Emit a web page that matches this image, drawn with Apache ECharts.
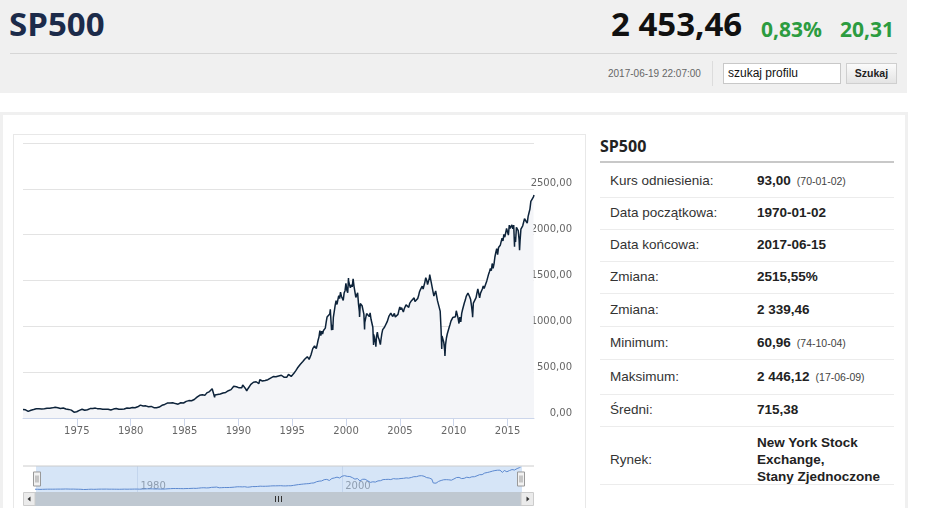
<!DOCTYPE html>
<html><head><meta charset="utf-8">
<script src="https://cdn.jsdelivr.net/npm/echarts@6/dist/echarts.min.js"></script>
<style>
html,body{margin:0;padding:0}
body{width:945px;height:508px;overflow:hidden;background:#fff;font-family:'Liberation Sans',Arial,sans-serif;position:relative}
.a{position:absolute;white-space:nowrap}
.os{font-family:'Open Sans',sans-serif;font-weight:700}
.lbl{font-size:13.5px;color:#333;line-height:20px;height:20px}
.val{font-size:13.5px;color:#222;font-weight:700;line-height:20px;height:20px}
.val small{font-size:10.5px;font-weight:400;color:#444;margin-left:6px}
.sep{height:1px;background:#ececec;left:600px;width:294px}
#chart{position:absolute;left:0;top:0;width:945px;height:508px;z-index:5;pointer-events:none}
</style>
</head><body>
<div class="a" style="left:0;top:0;width:907px;height:93px;background:#f0f0f0"></div>
<div class="a os" style="left:9px;top:7px;font-size:33px;line-height:33px;color:#1c2b4a">SP500</div>
<div class="a os" style="left:611px;top:7px;font-size:33px;line-height:33px;color:#111">2 453,46</div>
<div class="a os" style="left:761px;top:19px;font-size:21px;line-height:21px;color:#2c9c40">0,83%</div>
<div class="a os" style="left:840px;top:19px;font-size:21px;line-height:21px;color:#2c9c40">20,31</div>
<div class="a" style="left:10px;top:53px;width:887px;height:1px;background:#d6d6d6"></div>
<div class="a" style="left:608px;top:67px;font-size:10px;line-height:14px;color:#666">2017-06-19 22:07:00</div>
<div class="a" style="left:712px;top:61px;width:1px;height:25px;background:#dcdcdc"></div>
<div class="a" style="left:723px;top:63px;width:112px;height:19px;background:#fff;border:1px solid #c8c8c8;font-size:12px;line-height:19px;padding-left:4px;color:#111">szukaj profilu</div>
<div class="a" style="left:846px;top:63px;width:49px;height:19px;border:1px solid #cfcfcf;background:linear-gradient(#fbfbfb,#e4e4e4);font-size:10.5px;font-weight:700;line-height:19px;text-align:center;color:#222">Szukaj</div>

<div class="a" style="left:0;top:112px;width:902px;height:420px;border:3px solid #f0f0f0;border-bottom:none"></div>
<div class="a" style="left:13px;top:134px;width:571px;height:400px;border:1px solid #e8e8e8"></div>

<div class="a os" style="left:600px;top:138px;font-size:16px;line-height:16px;color:#222">SP500</div>
<div class="a" style="left:600px;top:161px;width:294px;height:2px;background:#c8c8c8"></div>
<div id="tbl"></div>

<div id="chart"></div>
<script>
// ---- data: S&P 500 monthly closes (read/estimated from the picture) ----
var startYear = 1970;
var d1970s = [
 85.02,89.50,89.63,81.52,76.55,72.72,78.05,81.52,84.21,83.25,87.20,92.15,
 95.88,96.75,100.31,103.95,99.63,99.70,95.58,99.03,98.34,94.23,93.99,102.09,
 103.94,106.57,107.20,107.67,109.53,107.14,107.39,111.09,110.55,111.58,116.67,118.05,
 116.03,111.68,111.52,106.97,104.95,104.26,108.22,104.25,108.43,108.29,95.96,97.55,
 96.57,96.22,93.98,90.31,87.28,86.00,79.31,72.15,63.54,73.90,69.97,68.56,
 76.98,81.59,83.36,87.30,91.15,95.19,88.75,86.88,83.87,89.04,91.24,90.19,
 100.86,99.71,102.77,101.64,100.18,104.28,103.44,102.91,105.24,102.90,102.10,107.46,
 102.03,99.82,98.42,98.44,96.12,100.48,98.85,96.77,96.53,92.34,94.83,95.10,
 89.25,87.04,89.21,96.83,97.24,95.53,100.68,103.29,102.54,93.15,94.70,96.11,
 99.93,96.28,101.59,101.76,99.08,102.91,103.81,109.32,109.32,101.82,106.16,107.94];
var d1980s = [
 114.16,113.66,102.09,106.29,111.24,114.24,121.67,122.38,125.46,127.47,140.52,135.76,
 129.55,131.27,136.00,132.81,132.59,131.21,130.92,122.79,116.18,121.89,126.35,122.55,
 120.40,113.11,111.96,116.44,111.88,109.61,107.09,119.51,120.42,133.71,138.54,140.64,
 145.30,148.06,152.96,164.42,162.39,167.64,162.56,164.40,166.07,163.55,166.40,164.93,
 163.41,157.06,159.18,160.05,150.55,153.18,150.66,166.68,166.10,166.09,163.58,167.24,
 179.63,181.18,180.66,179.83,189.55,191.85,190.92,188.63,182.08,189.82,202.17,211.28,
 211.78,226.92,238.90,235.52,247.35,250.84,236.12,252.93,231.32,243.98,249.22,242.17,
 274.08,284.20,291.70,288.36,290.10,304.00,318.66,329.80,321.83,251.79,230.30,247.08,
 257.07,267.82,258.89,261.33,262.16,273.50,272.02,261.52,271.91,278.97,273.70,277.72,
 297.47,288.86,294.87,309.64,320.52,317.98,346.08,351.45,349.15,340.36,345.99,353.40];
var d1990s = [
 329.08,331.89,339.94,330.80,361.23,358.02,356.15,322.56,306.05,304.00,322.22,330.22,
 343.93,367.07,375.22,375.35,389.83,371.16,387.81,395.43,387.86,392.46,375.22,417.09,
 408.79,412.70,403.69,414.95,415.35,408.14,424.21,414.03,417.80,418.68,431.35,435.71,
 438.78,443.38,451.67,440.19,450.19,450.53,448.13,463.56,458.93,467.83,461.79,466.45,
 481.61,467.14,445.77,450.91,456.50,444.27,458.26,475.49,462.71,472.35,453.69,459.27,
 470.42,487.39,500.71,514.71,533.40,544.75,562.06,561.88,584.41,581.50,605.37,615.93,
 636.02,640.43,645.50,654.17,669.12,670.63,639.95,651.99,687.33,705.27,757.02,740.74,
 786.16,790.82,757.12,801.34,848.28,885.14,954.29,899.47,947.28,914.62,955.40,970.43,
 980.28,1049.34,1101.75,1111.75,1090.82,1133.84,1120.67,957.28,1017.01,1098.67,1163.63,1229.23,
 1279.64,1238.33,1286.37,1335.18,1301.84,1372.71,1328.72,1320.41,1282.71,1362.93,1388.91,1469.25];
var d2000s = [
 1394.46,1366.42,1498.58,1452.43,1420.60,1454.60,1430.83,1517.68,1436.51,1429.40,1314.95,1320.28,
 1366.01,1239.94,1160.33,1249.46,1255.82,1224.42,1211.23,1133.58,1040.94,1059.78,1139.45,1148.08,
 1130.20,1106.73,1147.39,1076.92,1067.14,989.82,911.62,916.07,815.28,885.76,936.31,879.82,
 855.70,841.15,848.18,916.92,963.59,974.50,990.31,1008.01,995.97,1050.71,1058.20,1111.92,
 1131.13,1144.94,1126.21,1107.30,1120.68,1140.84,1101.72,1104.24,1114.58,1130.20,1173.82,1211.92,
 1181.27,1203.60,1180.59,1156.85,1191.50,1191.33,1234.18,1220.33,1228.81,1207.01,1249.48,1248.29,
 1280.08,1280.66,1294.87,1310.61,1270.09,1270.20,1276.66,1303.82,1335.85,1377.94,1400.63,1418.30,
 1438.24,1406.82,1420.86,1482.37,1530.62,1503.35,1455.27,1473.99,1526.75,1549.38,1481.14,1468.36,
 1378.55,1330.63,1322.70,1385.59,1400.38,1280.00,1267.38,1282.83,1166.36,968.75,896.24,903.25,
 825.88,735.09,797.87,872.81,919.14,919.32,987.48,1020.62,1057.08,1036.19,1095.63,1115.10];
var d2010s = [
 1073.87,1104.49,1169.43,1186.69,1089.41,1030.71,1101.60,1049.33,1141.20,1183.26,1180.55,1257.64,
 1286.12,1327.22,1325.83,1363.61,1345.20,1320.64,1292.28,1218.89,1131.42,1253.30,1246.96,1257.60,
 1312.41,1365.68,1408.47,1397.91,1310.33,1362.16,1379.32,1406.58,1440.67,1412.16,1416.18,1426.19,
 1498.11,1514.68,1569.19,1597.57,1630.74,1606.28,1685.73,1632.97,1681.55,1756.54,1805.81,1848.36,
 1782.59,1859.45,1872.34,1883.95,1923.57,1960.23,1930.67,2003.37,1972.29,2018.05,2067.56,2058.90,
 1994.99,2104.50,2067.89,2085.51,2107.39,2063.11,2103.84,1972.18,1920.03,2079.36,2080.41,2043.94,
 1940.24,1932.23,2059.74,2065.30,2096.95,2098.86,2173.60,2170.95,2168.27,2126.15,2198.81,2238.83,
 2278.87,2363.64,2362.72,2384.20,2411.80];
// notable intra-month closes
var extremes = [
 ['1970-01-02',93.00],['1970-05-26',69.29],['1973-01-11',120.24],['1974-10-03',62.28],
 ['1976-09-21',107.83],['1978-03-06',86.90],['1980-03-27',98.22],['1982-08-12',102.42],
 ['1987-08-25',336.77],['1987-10-19',224.84],['1987-12-04',223.92],['1990-07-16',368.95],
 ['1990-10-11',295.46],['1998-07-17',1186.75],['1998-10-08',959.44],['2000-03-24',1527.46],
 ['2001-04-04',1103.25],['2001-09-21',965.80],['2002-07-23',797.70],['2002-10-09',776.76],
 ['2003-03-11',800.73],['2007-10-09',1565.15],['2008-11-20',752.44],['2009-03-09',676.53],
 ['2010-07-02',1022.58],['2011-10-03',1099.23],['2015-08-25',1867.61],['2016-02-11',1829.08],
 ['2017-06-15',2432.46]];
var axisStart = '1970-01-02', axisEnd = '2017-06-15';
var yearTicks = [1975,1980,1985,1990,1995,2000,2005,2010,2015];
var navYearTicks = [1980,2000];

// info table
var infoRows = [
 ['Kurs odniesienia:','93,00','(70-01-02)'],
 ['Data początkowa:','1970-01-02',''],
 ['Data końcowa:','2017-06-15',''],
 ['Zmiana:','2515,55%',''],
 ['Zmiana:','2 339,46',''],
 ['Minimum:','60,96','(74-10-04)'],
 ['Maksimum:','2 446,12','(17-06-09)'],
 ['Średni:','715,38','']];
var marketLabel = 'Rynek:';
var marketLines = ['New York Stock','Exchange,','Stany Zjednoczone'];

// ---- build table (layout) ----
(function(){
  var rowY = [180.5,212.5,244.5,277,309.5,342.5,377,410];
  var seps = [196.5,229,261,293,326,359,394,426,484];
  var h = '';
  infoRows.forEach(function(r,i){
    h += '<div class="a lbl" style="left:610px;top:'+(rowY[i]-10)+'px">'+r[0]+'</div>';
    h += '<div class="a val" style="left:757px;top:'+(rowY[i]-10)+'px">'+r[1]+(r[2]?'<small>'+r[2]+'</small>':'')+'</div>';
  });
  h += '<div class="a lbl" style="left:610px;top:450px">'+marketLabel+'</div>';
  h += '<div class="a" style="left:757px;top:434px;font-size:13.5px;font-weight:700;line-height:17px;color:#222">'+marketLines.join('<br>')+'</div>';
  seps.forEach(function(y){ h += '<div class="a sep" style="top:'+Math.round(y)+'px"></div>'; });
  document.getElementById('tbl').innerHTML = h;
})();

// ---- build series ----
function ts(s){ return new Date(s+'T00:00:00').getTime(); }
var points = [];
[d1970s,d1980s,d1990s,d2000s,d2010s].forEach(function(arr,k){
  arr.forEach(function(v,i){
    var y = startYear + k*10 + Math.floor(i/12), m = i%12 + 1;
    points.push([y+'-'+(m<10?'0':'')+m+'-28', v]);
  });
});
extremes.forEach(function(p){ points.push(p); });
points.sort(function(a,b){ return a[0]<b[0]?-1:a[0]>b[0]?1:0; });
var seriesData = points.map(function(p){ return [ts(p[0]), p[1]]; });
var tickVals = yearTicks.map(function(y){ return ts(y+'-01-01'); });
var navTickVals = navYearTicks.map(function(y){ return ts(y+'-01-01'); });
function yearFmt(v){ return String(new Date(v).getFullYear()); }

var FONT = 'DejaVu Sans';
var chart = echarts.init(document.getElementById('chart'), null, {renderer:'canvas'});
chart.setOption({
  animation:false,
  backgroundColor:'transparent',
  grid:[
    {left:23, top:143, width:511, height:275, outerBoundsMode:'none'},
    {left:35, top:466, width:486, height:26, outerBoundsMode:'none'}
  ],
  xAxis:[
    {type:'value', gridIndex:0, min:ts(axisStart), max:ts(axisEnd), scale:true,
     axisLine:{show:true, onZero:false, lineStyle:{color:'#ccd6eb', width:1}},
     axisTick:{show:true, length:8, lineStyle:{color:'#ccd6eb'}, customValues:tickVals},
     axisLabel:{customValues:tickVals, margin:8, color:'#666', fontFamily:FONT, fontSize:10, formatter:yearFmt},
     splitLine:{show:false}},
    {type:'value', gridIndex:1, min:ts(axisStart), max:ts(axisEnd), scale:true,
     axisLine:{show:false, onZero:false},
     axisTick:{show:false, customValues:navTickVals},
     axisLabel:{customValues:navTickVals, inside:true, margin:1, align:'left', padding:[0,0,0,3],
       color:'#888', fontFamily:FONT, fontSize:10, formatter:yearFmt},
     splitLine:{show:true, lineStyle:{color:'#dfe5ee', width:1}}}
  ],
  yAxis:[
    {type:'value', gridIndex:0, position:'right', min:0, max:3000, interval:500,
     axisLine:{show:false}, axisTick:{show:false},
     splitLine:{show:true, lineStyle:{color:'#e3e3e3', width:1}},
     axisLabel:{margin:38, align:'right', verticalAlign:'bottom', color:'#666', fontFamily:FONT, fontSize:10,
       formatter:function(v){ return v===3000 ? '' : v.toFixed(2).replace('.',','); }}},
    {type:'value', gridIndex:1, min:-200, max:2550, show:false}
  ],
  dataZoom:[{
    type:'slider', xAxisIndex:0, filterMode:'none', start:0, end:100,
    left:35, width:486, top:466, height:26,
    backgroundColor:'rgba(0,0,0,0)', borderColor:'rgba(0,0,0,0)',
    fillerColor:'rgba(153,190,235,0.4)',
    showDataShadow:false, showDetail:false, brushSelect:false, moveHandleSize:0,
    handleIcon:'path://M0,0 L7,0 L7,14 L0,14 Z M2.5,3.5 L2.5,10.5 M4.5,3.5 L4.5,10.5',
    handleSize:'54%',
    handleStyle:{color:'#f2f2f2', borderColor:'#999', borderWidth:1},
    emphasis:{handleStyle:{color:'#f2f2f2', borderColor:'#999'}},
    z:4
  }],
  graphic:[
    {type:'line', z:20, shape:{x1:23,y1:466,x2:534,y2:466}, style:{stroke:'#cccccc', lineWidth:1}},
    {type:'rect', z:20, shape:{x:35,y:492,width:486,height:14}, style:{fill:'#bfc8d1'}},
    {type:'rect', z:20, shape:{x:23.5,y:492.5,width:11.5,height:13}, style:{fill:'#ebebeb', stroke:'#cccccc', lineWidth:1}},
    {type:'rect', z:20, shape:{x:521,y:492.5,width:12.5,height:13}, style:{fill:'#ebebeb', stroke:'#cccccc', lineWidth:1}},
    {type:'polygon', z:21, shape:{points:[[27.5,499],[30.5,496.5],[30.5,501.5]]}, style:{fill:'#333'}},
    {type:'polygon', z:21, shape:{points:[[529.5,499],[526.5,496.5],[526.5,501.5]]}, style:{fill:'#333'}},
    {type:'line', z:21, shape:{x1:275.5,y1:496,x2:275.5,y2:502}, style:{stroke:'#333', lineWidth:1}},
    {type:'line', z:21, shape:{x1:278.5,y1:496,x2:278.5,y2:502}, style:{stroke:'#333', lineWidth:1}},
    {type:'line', z:21, shape:{x1:281.5,y1:496,x2:281.5,y2:502}, style:{stroke:'#333', lineWidth:1}}
  ],
  series:[
    {type:'line', name:'SP500', xAxisIndex:0, yAxisIndex:0, data:seriesData, showSymbol:false,
     lineStyle:{color:'#0d233a', width:1.5}, itemStyle:{color:'#0d233a'},
     areaStyle:{color:'#f4f5f8', opacity:1}, z:2, silent:true},
    {type:'line', name:'nav', xAxisIndex:1, yAxisIndex:1, data:seriesData, showSymbol:false,
     lineStyle:{color:'#5b88cf', width:1}, itemStyle:{color:'#5b88cf'}, z:5, silent:true}
  ]
});
</script>
</body></html>
